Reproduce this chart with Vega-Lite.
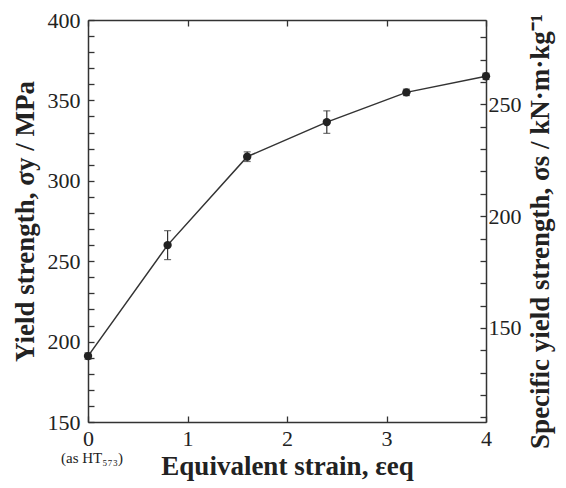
{
  "$schema": "https://vega.github.io/schema/vega-lite/v6.json",
  "width": 398,
  "height": 402,
  "autosize": {"type": "none"},
  "padding": {"left": 88, "top": 20, "right": 80, "bottom": 66},
  "background": "white",
  "config": {
    "view": {"stroke": null},
    "axis": {
      "grid": false,
      "domainColor": "#333333",
      "domainWidth": 1.5,
      "tickColor": "#333333",
      "tickWidth": 1.3,
      "labelFont": "Liberation Serif",
      "labelFontSize": 22,
      "labelColor": "#222222",
      "labelOverlap": false,
      "titleFont": "Liberation Serif",
      "titleFontSize": 27,
      "titleFontWeight": "bold",
      "titleColor": "#222222"
    }
  },
  "data": {
    "values": [
      {"strain": 0, "ys": 191, "lo": 189, "hi": 193, "ss": 137.4},
      {"strain": 0.8, "ys": 260, "lo": 251, "hi": 269, "ss": 187.1},
      {"strain": 1.6, "ys": 315, "lo": 312, "hi": 318, "ss": 226.6},
      {"strain": 2.4, "ys": 336.5, "lo": 329.5, "hi": 343.5, "ss": 242.1},
      {"strain": 3.2, "ys": 355, "lo": 353, "hi": 357, "ss": 255.4},
      {"strain": 4, "ys": 365, "lo": 363, "hi": 367, "ss": 262.6}
    ]
  },
  "layer": [
    {
      "encoding": {
        "x": {
          "field": "strain",
          "type": "quantitative",
          "scale": {"domain": [0, 4], "nice": false, "zero": false},
          "axis": {
            "title": "Equivalent strain, εeq",
            "values": [0, 1, 2, 3, 4],
            "format": "d",
            "tickCount": 10,
            "tickSize": -6,
            "labelPadding": 12,
            "titlePadding": 4,
            "labelFlush": false,
            "labelOverlap": false
          }
        }
      },
      "layer": [
        {
          "mark": {"type": "rule", "color": "#333333", "strokeWidth": 1.2},
          "encoding": {
            "y": {
              "field": "lo",
              "type": "quantitative",
              "scale": {"domain": [150, 400], "nice": false, "zero": false},
              "axis": {
                "title": "Yield strength, σy / MPa",
                "values": [150, 160, 170, 180, 190, 200, 210, 220, 230, 240, 250, 260, 270, 280, 290, 300, 310, 320, 330, 340, 350, 360, 370, 380, 390, 400],
                "tickCount": 40,
                "labelExpr": "datum.value % 50 == 0 ? datum.label : ''",
                "labelOverlap": false,
                "tickSize": -6,
                "labelPadding": 14,
                "titlePadding": 8
              }
            },
            "y2": {"field": "hi"}
          }
        },
        {
          "mark": {"type": "tick", "color": "#333333", "orient": "horizontal", "size": 7, "thickness": 1.2},
          "encoding": {"y": {"field": "lo", "type": "quantitative"}}
        },
        {
          "mark": {"type": "tick", "color": "#333333", "orient": "horizontal", "size": 7, "thickness": 1.2},
          "encoding": {"y": {"field": "hi", "type": "quantitative"}}
        },
        {
          "mark": {"type": "line", "color": "#333333", "strokeWidth": 1.5},
          "encoding": {"y": {"field": "ys", "type": "quantitative"}}
        },
        {
          "mark": {"type": "point", "filled": true, "color": "#222222", "size": 70, "opacity": 1},
          "encoding": {"y": {"field": "ys", "type": "quantitative"}}
        },
        {
          "data": {"values": [{"strain": 0, "note": "(as HT₅₇₃)"}]},
          "mark": {"type": "text", "font": "Liberation Serif", "fontSize": 15, "color": "#222222", "dx": 4, "dy": 36, "align": "center"},
          "encoding": {
            "y": {"datum": 150, "type": "quantitative"},
            "text": {"field": "note"}
          }
        }
      ]
    },
    {
      "mark": {"type": "point", "opacity": 0},
      "encoding": {
        "x": {
          "field": "strain",
          "type": "quantitative",
          "axis": {
            "orient": "top",
            "title": null,
            "values": [0, 1, 2, 3, 4],
            "tickCount": 10,
            "labels": false,
            "tickSize": -6
          }
        },
        "y": {
          "field": "ss",
          "type": "quantitative",
          "scale": {"domain": [107.91, 287.77], "nice": false, "zero": false},
          "axis": {
            "orient": "right",
            "title": "Specific yield strength, σs / kN·m·kg⁻¹",
            "titleAngle": 270,
            "titleBaseline": "top",
            "titleY": 211,
            "values": [110, 120, 130, 140, 150, 160, 170, 180, 190, 200, 210, 220, 230, 240, 250, 260, 270, 280],
            "tickCount": 40,
            "labelExpr": "datum.value % 50 == 0 ? datum.label : ''",
            "labelOverlap": false,
            "tickSize": -6,
            "labelPadding": 8,
            "titlePadding": 6
          }
        }
      }
    }
  ],
  "resolve": {"scale": {"y": "independent"}, "axis": {"y": "independent", "x": "independent"}}
}
